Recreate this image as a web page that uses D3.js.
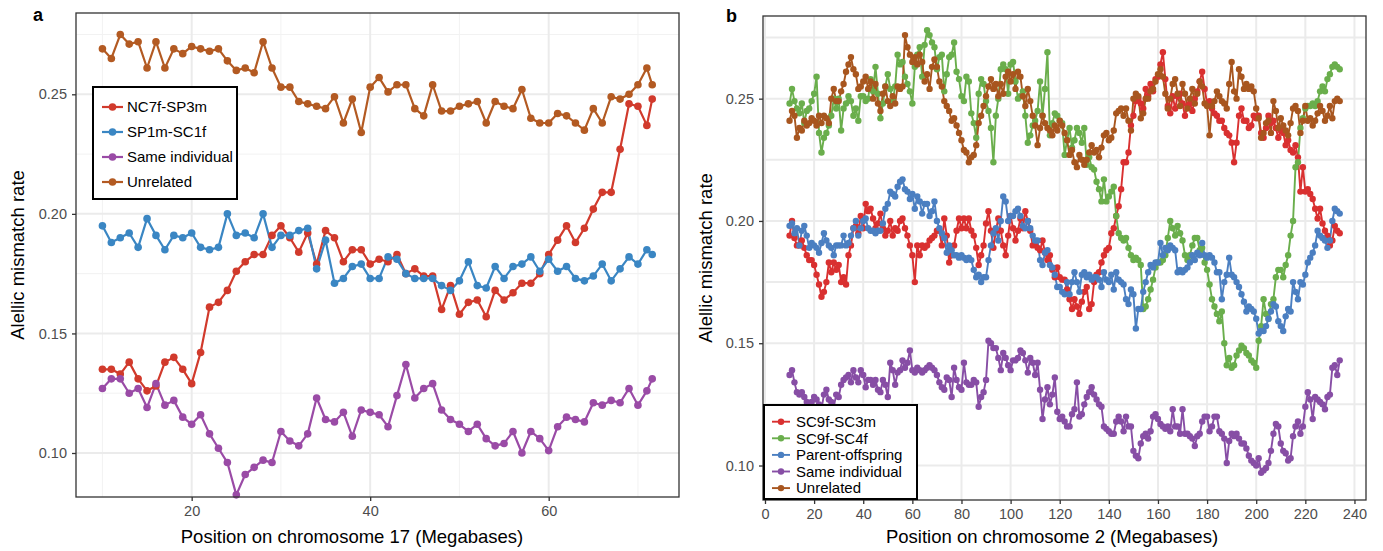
<!DOCTYPE html>
<html>
<head>
<meta charset="utf-8">
<script src="https://cdn.jsdelivr.net/npm/d3@7"></script>
<style>
body { margin: 0; background: #fff; }
text { font-family: "Liberation Sans", Arial, Helvetica, sans-serif; }
</style>
</head>
<body>
<script>
// ---------- panel a data (chromosome 17) ----------
const posA = [10,11,12,13,14,15,16,17,18,19,20,21,22,23,24,25,26,27,28,29,30,31,32,33,34,35,36,37,38,39,
  40,41,42,43,44,45,46,47,48,49,50,51,52,53,54,55,56,57,58,59,60,61,62,63,64,65,66,67,68,69,70,71,71.6];

const nc7fSp3m = [
  0.135,0.135,0.133,0.138,0.131,0.126,0.128,0.138,0.140,0.135,
  0.129,0.142,0.161,0.163,0.168,0.176,0.180,0.183,0.183,0.191,
  0.195,0.190,0.184,0.192,0.179,0.193,0.190,0.180,0.185,0.185,
  0.179,0.181,0.180,0.183,0.175,0.177,0.174,0.174,0.160,0.170,
  0.158,0.163,0.164,0.157,0.168,0.164,0.167,0.171,0.171,0.175,
  0.183,0.189,0.195,0.188,0.194,0.202,0.209,0.209,0.227,0.246,
  0.245,0.237,0.248];
const sp1mSc1f = [
  0.195,0.188,0.190,0.192,0.186,0.198,0.191,0.185,0.191,0.190,
  0.192,0.186,0.185,0.186,0.200,0.191,0.192,0.190,0.200,0.186,
  0.191,0.191,0.193,0.194,0.177,0.189,0.171,0.173,0.178,0.179,
  0.173,0.173,0.182,0.181,0.175,0.173,0.173,0.173,0.170,0.168,
  0.172,0.180,0.170,0.169,0.178,0.173,0.178,0.179,0.182,0.176,
  0.181,0.176,0.178,0.173,0.172,0.174,0.179,0.172,0.177,0.182,
  0.179,0.185,0.183];
const sameA = [
  0.127,0.131,0.131,0.125,0.127,0.119,0.129,0.120,0.122,0.115,
  0.112,0.116,0.108,0.102,0.096,0.0825,0.091,0.094,0.097,0.096,
  0.109,0.105,0.103,0.108,0.123,0.114,0.113,0.117,0.107,0.118,
  0.117,0.116,0.111,0.124,0.137,0.123,0.127,0.129,0.118,0.114,
  0.112,0.109,0.112,0.106,0.103,0.104,0.109,0.100,0.109,0.106,
  0.101,0.111,0.115,0.114,0.113,0.121,0.120,0.122,0.121,0.127,
  0.120,0.126,0.131];
const unrelA = [
  0.269,0.265,0.275,0.271,0.272,0.261,0.272,0.261,0.269,0.267,
  0.270,0.269,0.268,0.269,0.264,0.260,0.261,0.259,0.272,0.261,
  0.253,0.253,0.247,0.246,0.245,0.244,0.249,0.238,0.248,0.234,
  0.253,0.257,0.251,0.254,0.254,0.244,0.241,0.254,0.243,0.243,
  0.245,0.246,0.247,0.238,0.247,0.245,0.244,0.252,0.240,0.238,
  0.238,0.242,0.241,0.238,0.235,0.244,0.238,0.249,0.248,0.250,
  0.254,0.261,0.254];

const namesA = ["NC7f-SP3m", "SP1m-SC1f", "Same individual", "Unrelated"];
const colorsA = ["#d13a2c", "#3a86c3", "#9a4ba6", "#b35a22"];

// ---------- panel b data (chromosome 2), one window per Mb from 10 to 234 ----------
const posB = d3.range(10, 235);

const sc9fSc3m = [
  0.194,0.200,0.193,0.190,0.190,0.192,0.189,0.186,0.184,0.184,
  0.182,0.178,0.174,0.169,0.171,0.175,0.183,0.179,0.183,0.180,
  0.182,0.175,0.177,0.174,0.186,0.190,0.197,0.198,0.195,0.202,
  0.197,0.207,0.204,0.205,0.201,0.197,0.199,0.203,0.197,0.194,
  0.196,0.200,0.194,0.197,0.196,0.200,0.201,0.197,0.194,0.190,
  0.186,0.175,0.190,0.186,0.190,0.189,0.190,0.192,0.193,0.194,
  0.196,0.196,0.190,0.201,0.194,0.183,0.186,0.190,0.196,0.201,
  0.197,0.201,0.197,0.201,0.196,0.194,0.189,0.182,0.186,0.190,
  0.199,0.204,0.196,0.189,0.196,0.201,0.196,0.190,0.186,0.194,
  0.202,0.197,0.192,0.196,0.201,0.197,0.204,0.200,0.196,0.190,
  0.191,0.189,0.188,0.192,0.187,0.184,0.186,0.180,0.177,0.181,
  0.177,0.176,0.176,0.172,0.168,0.164,0.168,0.165,0.162,0.167,
  0.171,0.173,0.164,0.166,0.175,0.178,0.179,0.183,0.186,0.188,
  0.189,0.195,0.197,0.202,0.206,0.213,0.224,0.224,0.228,0.239,
  0.243,0.249,0.250,0.248,0.246,0.254,0.251,0.256,0.253,0.258,
  0.259,0.264,0.269,0.258,0.247,0.244,0.251,0.246,0.251,0.252,
  0.248,0.243,0.247,0.248,0.245,0.250,0.253,0.257,0.261,0.254,
  0.248,0.249,0.246,0.244,0.243,0.241,0.241,0.238,0.236,0.235,
  0.232,0.224,0.232,0.243,0.246,0.241,0.241,0.238,0.239,0.243,
  0.242,0.243,0.236,0.234,0.238,0.243,0.240,0.241,0.238,0.234,
  0.237,0.236,0.231,0.233,0.229,0.228,0.231,0.226,0.212,0.222,
  0.212,0.213,0.211,0.209,0.205,0.201,0.205,0.199,0.196,0.194,
  0.190,0.192,0.198,0.196,0.195];
const sc9fSc4f = [
  0.248,0.254,0.249,0.246,0.244,0.248,0.240,0.245,0.246,0.249,
  0.252,0.259,0.236,0.228,0.234,0.236,0.239,0.243,0.250,0.246,
  0.250,0.237,0.246,0.248,0.251,0.249,0.243,0.246,0.241,0.251,
  0.251,0.249,0.250,0.258,0.253,0.263,0.252,0.242,0.248,0.255,
  0.260,0.254,0.249,0.255,0.268,0.264,0.265,0.259,0.256,0.253,
  0.248,0.263,0.268,0.271,0.259,0.272,0.278,0.276,0.273,0.271,
  0.262,0.267,0.268,0.253,0.260,0.267,0.268,0.273,0.261,0.258,
  0.251,0.249,0.259,0.257,0.244,0.240,0.234,0.252,0.258,0.256,
  0.249,0.245,0.238,0.224,0.243,0.250,0.262,0.264,0.262,0.252,
  0.264,0.265,0.257,0.250,0.251,0.253,0.243,0.232,0.235,0.239,
  0.241,0.245,0.257,0.243,0.254,0.269,0.235,0.240,0.244,0.243,
  0.241,0.240,0.227,0.233,0.238,0.230,0.233,0.238,0.236,0.232,
  0.238,0.223,0.226,0.222,0.221,0.216,0.213,0.208,0.217,0.208,
  0.210,0.212,0.214,0.202,0.195,0.193,0.192,0.193,0.189,0.186,
  0.184,0.185,0.184,0.182,0.164,0.165,0.168,0.172,0.176,0.181,
  0.183,0.183,0.184,0.186,0.193,0.200,0.197,0.194,0.198,0.195,
  0.192,0.186,0.184,0.186,0.190,0.193,0.193,0.188,0.189,0.183,
  0.180,0.174,0.168,0.165,0.162,0.159,0.163,0.150,0.141,0.144,
  0.140,0.141,0.145,0.147,0.149,0.148,0.146,0.145,0.143,0.142,
  0.140,0.151,0.157,0.168,0.162,0.160,0.166,0.168,0.177,0.180,
  0.180,0.177,0.182,0.186,0.194,0.200,0.222,0.224,0.238,0.242,
  0.246,0.247,0.247,0.248,0.247,0.249,0.253,0.255,0.253,0.258,
  0.260,0.263,0.264,0.263,0.262];
const parentOffspring = [
  0.198,0.199,0.195,0.197,0.190,0.196,0.198,0.194,0.189,0.191,
  0.190,0.189,0.187,0.191,0.195,0.192,0.190,0.189,0.186,0.190,
  0.190,0.190,0.194,0.190,0.191,0.194,0.197,0.200,0.194,0.197,
  0.200,0.201,0.197,0.196,0.196,0.195,0.196,0.196,0.199,0.205,
  0.207,0.212,0.211,0.210,0.214,0.216,0.217,0.213,0.212,0.209,
  0.211,0.205,0.210,0.208,0.203,0.207,0.207,0.202,0.204,0.208,
  0.200,0.197,0.195,0.193,0.187,0.190,0.188,0.186,0.186,0.185,
  0.186,0.185,0.184,0.185,0.184,0.180,0.177,0.178,0.175,0.177,
  0.177,0.184,0.190,0.195,0.197,0.192,0.200,0.210,0.208,0.200,
  0.202,0.202,0.204,0.205,0.202,0.198,0.197,0.200,0.197,0.194,
  0.192,0.192,0.184,0.182,0.187,0.188,0.182,0.181,0.178,0.173,
  0.173,0.171,0.170,0.175,0.170,0.175,0.179,0.175,0.171,0.178,
  0.179,0.177,0.178,0.176,0.177,0.177,0.176,0.173,0.179,0.176,
  0.175,0.178,0.172,0.179,0.176,0.175,0.174,0.168,0.166,0.172,
  0.170,0.156,0.164,0.164,0.171,0.175,0.179,0.182,0.181,0.183,
  0.183,0.191,0.186,0.189,0.188,0.190,0.189,0.188,0.179,0.180,
  0.179,0.180,0.181,0.183,0.186,0.184,0.187,0.186,0.191,0.186,
  0.185,0.186,0.185,0.183,0.179,0.179,0.168,0.175,0.178,0.185,
  0.178,0.177,0.175,0.173,0.170,0.167,0.163,0.165,0.164,0.163,
  0.160,0.154,0.155,0.155,0.157,0.160,0.163,0.166,0.165,0.159,
  0.157,0.155,0.161,0.164,0.163,0.175,0.171,0.168,0.175,0.174,
  0.178,0.183,0.185,0.187,0.190,0.196,0.194,0.193,0.192,0.189,
  0.192,0.200,0.205,0.204,0.203];
const sameB = [
  0.137,0.139,0.134,0.130,0.129,0.130,0.128,0.126,0.125,0.126,
  0.128,0.127,0.125,0.123,0.129,0.131,0.127,0.126,0.124,0.129,
  0.128,0.133,0.135,0.136,0.137,0.134,0.139,0.136,0.134,0.139,
  0.137,0.132,0.135,0.135,0.133,0.135,0.131,0.130,0.135,0.133,
  0.128,0.142,0.139,0.133,0.138,0.139,0.143,0.140,0.142,0.147,
  0.139,0.138,0.140,0.139,0.138,0.139,0.140,0.141,0.140,0.139,
  0.137,0.134,0.132,0.131,0.136,0.135,0.128,0.140,0.135,0.132,
  0.131,0.142,0.134,0.133,0.133,0.135,0.134,0.124,0.128,0.130,
  0.135,0.151,0.150,0.148,0.148,0.144,0.139,0.146,0.144,0.141,
  0.139,0.143,0.143,0.144,0.147,0.146,0.143,0.138,0.144,0.142,
  0.137,0.142,0.131,0.119,0.127,0.132,0.125,0.129,0.136,0.122,
  0.119,0.120,0.118,0.116,0.116,0.121,0.123,0.134,0.120,0.121,
  0.125,0.128,0.130,0.132,0.129,0.127,0.125,0.124,0.116,0.115,
  0.114,0.113,0.113,0.118,0.120,0.118,0.114,0.120,0.116,0.116,
  0.106,0.104,0.103,0.109,0.112,0.113,0.111,0.114,0.120,0.121,
  0.119,0.117,0.116,0.115,0.116,0.114,0.123,0.116,0.116,0.113,
  0.123,0.113,0.113,0.112,0.111,0.108,0.112,0.113,0.118,0.120,
  0.120,0.114,0.116,0.120,0.120,0.114,0.113,0.111,0.101,0.110,
  0.113,0.112,0.113,0.111,0.109,0.109,0.107,0.104,0.102,0.101,
  0.100,0.103,0.097,0.098,0.099,0.101,0.106,0.113,0.117,0.116,
  0.109,0.106,0.105,0.102,0.103,0.112,0.116,0.118,0.113,0.116,
  0.124,0.130,0.127,0.119,0.128,0.127,0.126,0.125,0.123,0.128,
  0.129,0.140,0.141,0.137,0.143];
const unrelB = [
  0.241,0.245,0.243,0.234,0.238,0.237,0.241,0.239,0.240,0.242,
  0.241,0.239,0.243,0.240,0.243,0.242,0.240,0.250,0.254,0.249,
  0.249,0.253,0.256,0.261,0.264,0.267,0.262,0.260,0.254,0.255,
  0.257,0.259,0.254,0.257,0.250,0.256,0.248,0.245,0.252,0.255,
  0.249,0.247,0.251,0.248,0.255,0.254,0.255,0.276,0.271,0.268,
  0.265,0.267,0.264,0.268,0.265,0.257,0.260,0.254,0.263,0.266,
  0.263,0.257,0.255,0.249,0.247,0.245,0.241,0.242,0.239,0.236,
  0.233,0.229,0.228,0.224,0.226,0.227,0.231,0.240,0.243,0.247,
  0.251,0.255,0.258,0.254,0.256,0.251,0.256,0.252,0.259,0.261,
  0.257,0.260,0.254,0.261,0.259,0.251,0.247,0.254,0.249,0.243,
  0.239,0.231,0.238,0.243,0.240,0.238,0.237,0.235,0.239,0.237,
  0.241,0.239,0.236,0.233,0.227,0.229,0.224,0.222,0.227,0.225,
  0.223,0.225,0.228,0.231,0.228,0.229,0.226,0.230,0.235,0.236,
  0.233,0.234,0.237,0.244,0.245,0.246,0.243,0.246,0.241,0.237,
  0.250,0.252,0.251,0.242,0.244,0.250,0.250,0.253,0.254,0.257,
  0.260,0.262,0.259,0.252,0.246,0.250,0.256,0.258,0.252,0.247,
  0.256,0.252,0.246,0.250,0.254,0.248,0.252,0.257,0.255,0.248,
  0.247,0.235,0.247,0.249,0.253,0.251,0.249,0.248,0.246,0.256,
  0.265,0.253,0.250,0.262,0.259,0.254,0.256,0.254,0.255,0.253,
  0.246,0.242,0.234,0.236,0.240,0.241,0.236,0.249,0.245,0.238,
  0.242,0.239,0.237,0.235,0.240,0.246,0.247,0.245,0.236,0.241,
  0.247,0.241,0.242,0.239,0.241,0.244,0.247,0.245,0.241,0.243,
  0.247,0.242,0.249,0.250,0.249];

const namesB = ["SC9f-SC3m", "SC9f-SC4f", "Parent-offspring", "Same individual", "Unrelated"];
const colorsB = ["#d93030", "#6aae4c", "#4b7fc1", "#874ea5", "#a8561f"];

const yTicks = [0.10, 0.15, 0.20, 0.25];

// ---------- drawing ----------
const svg = d3.select("body").append("svg")
    .attr("width", 1383)
    .attr("height", 551);

function drawPanel(p) {
  const g = svg.append("g");
  const x = d3.scaleLinear().domain(p.xDomain).range([p.left, p.right]);
  const y = d3.scaleLinear().domain(p.yDomain).range([p.bottom, p.top]);

  // grid: minor first, then major
  g.selectAll(".gxm").data(p.xMinor).join("line")
    .attr("x1", d => x(d)).attr("x2", d => x(d))
    .attr("y1", p.top).attr("y2", p.bottom)
    .attr("stroke", p.minorColor).attr("stroke-width", p.minorWidth);
  g.selectAll(".gym").data(p.yMinor).join("line")
    .attr("y1", d => y(d)).attr("y2", d => y(d))
    .attr("x1", p.left).attr("x2", p.right)
    .attr("stroke", p.minorColor).attr("stroke-width", p.minorWidth);
  g.selectAll(".gx").data(p.xTicks).join("line")
    .attr("x1", d => x(d)).attr("x2", d => x(d))
    .attr("y1", p.top).attr("y2", p.bottom)
    .attr("stroke", "#ebebeb").attr("stroke-width", 2);
  g.selectAll(".gy").data(yTicks).join("line")
    .attr("y1", d => y(d)).attr("y2", d => y(d))
    .attr("x1", p.left).attr("x2", p.right)
    .attr("stroke", "#ebebeb").attr("stroke-width", 2);

  // series: all lines, then all points
  const series = p.values.map((vals, i) => ({
    name: p.names[i], color: p.colors[i],
    pts: vals.map((v, j) => ({ pos: p.pos[j], v: v }))
  }));
  const line = d3.line().x(d => x(d.pos)).y(d => y(d.v));
  g.selectAll(".line").data(series).join("path")
    .attr("d", d => line(d.pts))
    .attr("fill", "none")
    .attr("stroke", d => d.color)
    .attr("stroke-width", p.lineWidth)
    .attr("stroke-linejoin", "round");
  series.forEach(s => {
    g.append("g").selectAll("circle").data(s.pts).join("circle")
      .attr("cx", d => x(d.pos))
      .attr("cy", d => y(d.v))
      .attr("r", p.r)
      .attr("fill", s.color);
  });

  // border
  g.append("rect")
    .attr("x", p.left).attr("y", p.top)
    .attr("width", p.right - p.left).attr("height", p.bottom - p.top)
    .attr("fill", "none").attr("stroke", "#333").attr("stroke-width", 1.3);

  // axes
  const ax = g.append("g")
    .attr("transform", `translate(0,${p.bottom})`)
    .call(d3.axisBottom(x).tickValues(p.xTicks).tickSize(4).tickPadding(5).tickFormat(d3.format("d")));
  const ay = g.append("g")
    .attr("transform", `translate(${p.left},0)`)
    .call(d3.axisLeft(y).tickValues(yTicks).tickSize(4).tickPadding(5).tickFormat(d3.format(".2f")));
  [ax, ay].forEach(a => {
    a.select(".domain").remove();
    a.selectAll(".tick line").attr("stroke", "#333").attr("stroke-width", 1.3);
    a.selectAll(".tick text").attr("fill", "#4d4d4d").style("font-size", "14.5px")
      .style("font-family", '"Liberation Sans", Arial, sans-serif');
  });

  // titles
  g.append("text")
    .attr("x", p.xTitleX).attr("y", 543)
    .attr("text-anchor", "middle")
    .style("font-size", "18.5px")
    .text(p.xTitle);
  g.append("text")
    .attr("transform", `translate(${p.yTitleX},${(p.top + p.bottom) / 2}) rotate(-90)`)
    .attr("text-anchor", "middle")
    .style("font-size", "18.5px")
    .text("Alellic mismatch rate");
  g.append("text")
    .attr("x", p.tagX).attr("y", p.tagY)
    .style("font-size", "18px").style("font-weight", "bold")
    .text(p.tag);

  // legend
  const L = p.legend;
  const lg = g.append("g");
  lg.append("rect")
    .attr("x", L.x0).attr("y", L.y0)
    .attr("width", L.x1 - L.x0).attr("height", L.y1 - L.y0)
    .attr("fill", "#fff").attr("stroke", "#000").attr("stroke-width", 2);
  const items = lg.selectAll(".item").data(series).join("g")
    .attr("transform", (d, i) => `translate(0,${L.firstY + i * L.step})`);
  items.append("line")
    .attr("x1", L.lineX0).attr("x2", L.lineX1)
    .attr("stroke", d => d.color).attr("stroke-width", p.lineWidth);
  items.append("circle")
    .attr("cx", (L.lineX0 + L.lineX1) / 2).attr("r", p.r)
    .attr("fill", d => d.color);
  items.append("text")
    .attr("x", L.textX).attr("dy", "0.35em")
    .style("font-size", "15px")
    .text(d => d.name);
}

drawPanel({
  tag: "a", tagX: 33, tagY: 21,
  left: 76, right: 679, top: 13, bottom: 497,
  xDomain: [7.04, 74.6], yDomain: [0.0816, 0.284],
  xTicks: [20, 40, 60], xMinor: [10, 30, 50, 70],
  yMinor: [0.125, 0.175, 0.225, 0.275],
  minorColor: "#f2f2f2", minorWidth: 1,
  pos: posA, values: [nc7fSp3m, sp1mSc1f, sameA, unrelA],
  names: namesA, colors: colorsA,
  lineWidth: 2.2, r: 3.8,
  xTitle: "Position on chromosome 17 (Megabases)", xTitleX: 352, yTitleX: 24,
  legend: { x0: 93, y0: 87, x1: 237, y1: 199, firstY: 107, step: 25,
            lineX0: 102, lineX1: 123, textX: 127 }
});

drawPanel({
  tag: "b", tagX: 726, tagY: 22,
  left: 763, right: 1366, top: 16, bottom: 500,
  xDomain: [-0.81, 244.7], yDomain: [0.0859, 0.2838],
  xTicks: [0, 20, 40, 60, 80, 100, 120, 140, 160, 180, 200, 220, 240], xMinor: [],
  yMinor: [0.125, 0.175, 0.225, 0.275],
  minorColor: "#ebebeb", minorWidth: 2,
  pos: posB, values: [sc9fSc3m, sc9fSc4f, parentOffspring, sameB, unrelB],
  names: namesB, colors: colorsB,
  lineWidth: 1.9, r: 3.2,
  xTitle: "Position on chromosome 2 (Megabases)", xTitleX: 1052, yTitleX: 712,
  legend: { x0: 764, y0: 405, x1: 917, y1: 499, firstY: 421.7, step: 16.6,
            lineX0: 772, lineX1: 790, textX: 796 }
});
</script>
</body>
</html>
